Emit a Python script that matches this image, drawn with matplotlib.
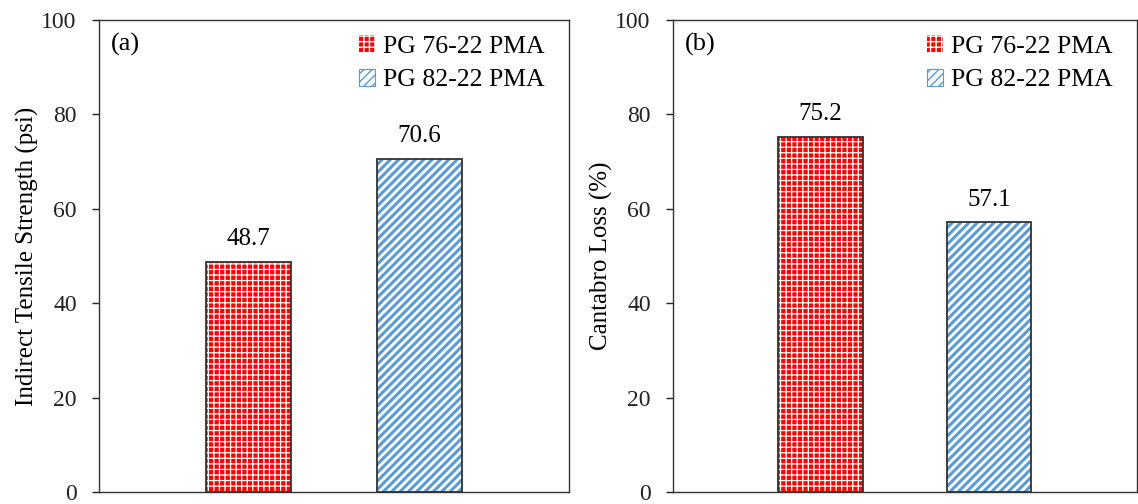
import matplotlib
matplotlib.use("Agg")
import matplotlib.pyplot as plt
import numpy as np

# data
mixes = ["PG 76-22 PMA", "PG 82-22 PMA"]
its_values = [48.7, 70.6]
cantabro_values = [75.2, 57.1]
panel_tags = ["(a)", "(b)"]
y_labels = ["Indirect Tensile Strength (psi)", "Cantabro Loss (%)"]
y_ticks = [0, 20, 40, 60, 80, 100]

plt.rcParams["font.family"] = ["Liberation Serif", "DejaVu Serif"]

red = "#ff0000"
blue = "#5b9bd5"

fig = plt.figure(figsize=(11.38, 5.04), dpi=100)
ax_a = fig.add_axes([0.087, 0.0238, 0.413, 0.9365])
ax_b = fig.add_axes([0.5914, 0.0238, 0.4076, 0.9365])


def style_red(p):
    p.set_facecolor(red)
    p.set_edgecolor("white")
    p.set_hatch("+++")
    p.set_linewidth(0)
    p.set_hatch_linewidth(0.9)


def style_blue(p):
    p.set_facecolor("white")
    p.set_edgecolor(blue)
    p.set_hatch("////")
    p.set_linewidth(0)
    p.set_hatch_linewidth(2.2)


def draw_panel(ax, values, tag, ylabel):
    x = np.arange(len(values))
    w = 0.5
    bars = ax.bar(x, values, w)
    style_red(bars[0])
    style_blue(bars[1])
    # black outlines
    ax.bar(x, values, w, fill=False, edgecolor="#333333", linewidth=1.3)
    for xi, v in zip(x, values):
        ax.text(xi, v + 2.5, f"{v:.1f}", ha="center", va="bottom", fontsize=18)

    ax.set_xlim(-0.875, 1.875)
    ax.set_ylim(0, 100)
    ax.set_yticks(y_ticks)
    ax.set_xticks([])
    ax.tick_params(axis="y", direction="out", length=5, width=1, labelsize=17,
                   colors="#222222", pad=11)
    for s in ax.spines.values():
        s.set_color("#333333")
        s.set_linewidth(1.0)
    ax.set_ylabel(ylabel, fontsize=18, labelpad=2)
    ax.text(0.025, 0.948, tag, transform=ax.transAxes, fontsize=19,
            ha="left", va="center")

    h1 = plt.Rectangle((0, 0), 1, 1)
    style_red(h1)
    h1.set_linewidth(0)
    h2 = plt.Rectangle((0, 0), 1, 1)
    style_blue(h2)
    h2.set_linewidth(0.8)
    ax.legend([h1, h2], mixes, loc="upper right", frameon=False, fontsize=18.5,
              handlelength=0.6, handleheight=0.6, handletextpad=0.3,
              labelspacing=0.45, borderaxespad=0.2, bbox_to_anchor=(0.98, 1.0))


draw_panel(ax_a, its_values, panel_tags[0], y_labels[0])
draw_panel(ax_b, cantabro_values, panel_tags[1], y_labels[1])

fig.savefig("out.png", dpi=100)
